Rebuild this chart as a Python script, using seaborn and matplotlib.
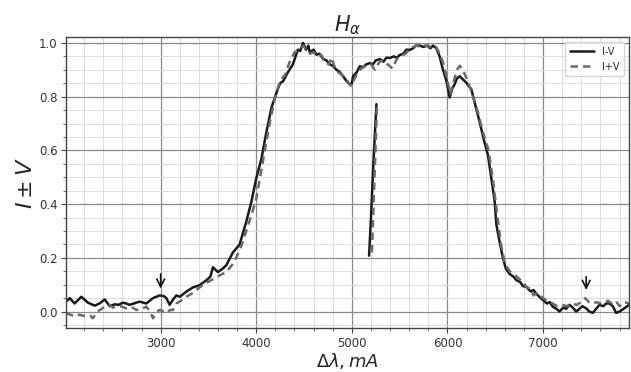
import numpy as np
import pandas as pd
import seaborn as sns
import matplotlib
matplotlib.use("Agg")
import matplotlib.pyplot as plt
from matplotlib.ticker import MultipleLocator

# ---- data ----
iv_x = [2010, 2050, 2100, 2170, 2240, 2310, 2360, 2415, 2467, 2520, 2560, 2605, 2640, 2675, 2720,
        2780, 2850, 2920, 2990, 3030, 3060, 3094, 3130, 3164, 3200, 3268, 3338, 3407, 3477, 3520,
        3547, 3599, 3650, 3686, 3756, 3826, 3896, 3950, 4000, 4055, 4107, 4160, 4212, 4250, 4282,
        4330, 4383, 4435, 4460, 4489, 4520, 4545, 4560, 4600, 4630, 4660, 4700, 4735, 4769, 4800,
        4839, 4870, 4908, 4940, 4978, 5000, 5013, 5050, 5083, 5120, 5150, 5187, 5220, 5250, 5292,
        5330, 5360, 5397, 5440, 5470, 5501, 5540, 5570, 5606, 5640, 5670, 5710, 5750, 5790, 5820,
        5849, 5884, 5918, 5953, 5988, 6023, 6050, 6075, 6100, 6128, 6160, 6197, 6250, 6290, 6337,
        6380, 6424, 6459, 6494, 6511, 6545, 6580, 6610, 6650, 6690, 6720, 6760, 6790, 6824, 6870,
        6900, 6929, 6960, 6998, 7040, 7070, 7102, 7140, 7172, 7210, 7240, 7276, 7310, 7346, 7380,
        7410, 7451, 7485, 7520, 7555, 7590, 7630, 7660, 7694, 7730, 7764, 7800, 7850, 7900]
iv_y = [0.037, 0.05, 0.03, 0.055, 0.033, 0.022, 0.03, 0.045, 0.02, 0.027, 0.025, 0.033, 0.03, 0.025, 0.03,
        0.037, 0.03, 0.05, 0.06, 0.058, 0.05, 0.025, 0.045, 0.06, 0.055, 0.074, 0.09, 0.098, 0.116, 0.13,
        0.165, 0.147, 0.16, 0.172, 0.22, 0.25, 0.335, 0.41, 0.496, 0.57, 0.67, 0.76, 0.815, 0.85, 0.858,
        0.89, 0.92, 0.975, 0.97, 1.0, 0.975, 0.99, 0.965, 0.975, 0.956, 0.96, 0.94, 0.935, 0.92, 0.915,
        0.9, 0.893, 0.876, 0.86, 0.846, 0.85, 0.876, 0.89, 0.913, 0.91, 0.92, 0.925, 0.92, 0.935, 0.94,
        0.93, 0.945, 0.944, 0.95, 0.945, 0.955, 0.96, 0.975, 0.974, 0.98, 0.99, 0.99, 0.985, 0.99, 0.98,
        0.99, 0.98, 0.95, 0.9, 0.86, 0.797, 0.83, 0.846, 0.868, 0.876, 0.865, 0.852, 0.827, 0.77, 0.705,
        0.64, 0.582, 0.496, 0.41, 0.325, 0.26, 0.2, 0.16, 0.14, 0.13, 0.117, 0.11, 0.095, 0.092, 0.075,
        0.08, 0.067, 0.055, 0.043, 0.03, 0.035, 0.018, 0.01, 0.0, 0.015, 0.01, 0.025, 0.015, 0.0, 0.01,
        0.02, 0.012, 0.0, -0.005, 0.01, 0.025, 0.02, 0.03, 0.03, 0.02, -0.005, 0.0, 0.012, 0.025]

ipv_x = [2010, 2060, 2100, 2150, 2220, 2260, 2290, 2340, 2390, 2430, 2467, 2500, 2530, 2580, 2640,
         2690, 2745, 2800, 2850, 2890, 2920, 2960, 2990, 3030, 3060, 3100, 3130, 3165, 3210, 3268,
         3340, 3407, 3470, 3547, 3620, 3686, 3750, 3790, 3850, 3896, 3950, 4000, 4050, 4100, 4150,
         4200, 4250, 4300, 4350, 4400, 4450, 4489, 4530, 4560, 4600, 4640, 4680, 4720, 4760, 4790,
         4820, 4860, 4900, 4950, 4990, 5020, 5060, 5100, 5150, 5200, 5240, 5290, 5330, 5375, 5425,
         5470, 5510, 5560, 5600, 5640, 5680, 5720, 5760, 5800, 5840, 5880, 5920, 5960, 6000, 6030,
         6060, 6100, 6130, 6160, 6210, 6270, 6320, 6370, 6430, 6480, 6520, 6560, 6600, 6650, 6690,
         6740, 6790, 6830, 6870, 6900, 6940, 6980, 7020, 7060, 7100, 7150, 7200, 7250, 7300, 7350,
         7400, 7440, 7480, 7520, 7560, 7600, 7640, 7680, 7720, 7760, 7800, 7850, 7900]
ipv_y = [-0.006, -0.012, -0.018, -0.012, -0.018, -0.015, -0.025, 0.0, 0.012, 0.02, 0.025, 0.015, 0.018, 0.02, 0.012,
         0.018, 0.006, 0.01, 0.018, 0.0, -0.025, 0.0, 0.006, 0.0, -0.006, 0.006, 0.006, 0.03, 0.04, 0.055,
         0.07, 0.09, 0.105, 0.12, 0.135, 0.147, 0.175, 0.2, 0.25, 0.3, 0.36, 0.42, 0.52, 0.62, 0.72,
         0.8, 0.86, 0.88, 0.93, 0.965, 0.975, 0.99, 0.975, 0.96, 0.965, 0.95, 0.955, 0.93, 0.92, 0.945,
         0.91, 0.89, 0.88, 0.86, 0.84, 0.86, 0.89, 0.905, 0.915, 0.92, 0.9, 0.93, 0.935, 0.92, 0.905,
         0.94, 0.95, 0.96, 0.975, 0.985, 0.99, 0.985, 0.99, 0.99, 0.98, 0.985, 0.96, 0.92, 0.86, 0.81,
         0.85, 0.9, 0.915, 0.9, 0.86, 0.8, 0.74, 0.67, 0.6, 0.48, 0.36, 0.25, 0.18, 0.15, 0.14,
         0.125, 0.11, 0.09, 0.085, 0.06, 0.07, 0.055, 0.045, 0.04, 0.03, 0.02, 0.025, 0.02, 0.03, 0.025,
         0.035, 0.05, 0.035, 0.03, 0.035, 0.03, 0.035, 0.04, 0.03, 0.04, 0.02, 0.035, 0.03]

# detached segment present in the original data plot
iv_seg_x = [5180, 5200, 5225, 5257]
iv_seg_y = [0.208, 0.35, 0.55, 0.772]
ipv_seg_x = [5210, 5225, 5245, 5262]
ipv_seg_y = [0.22, 0.38, 0.58, 0.76]

arrow_x = [3000, 7451]
arrow_tip = [0.075, 0.07]
arrow_tail = [0.15, 0.14]

# ---- plot ----
sns.set_style("white")
plt.rcParams['font.family'] = ['DejaVu Sans']
plt.rcParams['mathtext.fontset'] = 'dejavusans'

fig = plt.figure(figsize=(6.31, 3.72), dpi=100)
ax = fig.add_axes([0.1046, 0.117, 0.8924, 0.7835])

sns.lineplot(x=iv_x, y=iv_y, ax=ax, color='#1a1a1a', lw=1.8, label='I-V', sort=False)
sns.lineplot(x=ipv_x, y=ipv_y, ax=ax, color='#6a6a6a', lw=1.8, linestyle=(0, (3, 2)), label='I+V', sort=False)
sns.lineplot(x=iv_seg_x, y=iv_seg_y, ax=ax, color='#1a1a1a', lw=1.8, sort=False)
sns.lineplot(x=ipv_seg_x, y=ipv_seg_y, ax=ax, color='#6a6a6a', lw=1.8, linestyle=(0, (3, 2)), sort=False)

for xa, yt, yh in zip(arrow_x, arrow_tip, arrow_tail):
    ax.annotate('', xy=(xa, yt), xytext=(xa, yh),
                arrowprops=dict(arrowstyle='->', color='#111111', lw=1.2, mutation_scale=14))

ax.set_xlim(2010, 7900)
ax.set_ylim(-0.063, 1.022)
ax.xaxis.set_major_locator(MultipleLocator(1000))
ax.xaxis.set_minor_locator(MultipleLocator(200))
ax.yaxis.set_major_locator(MultipleLocator(0.2))
ax.yaxis.set_minor_locator(MultipleLocator(0.05))
ax.grid(which='major', color='#8a8a8a', lw=0.9)
ax.grid(which='minor', color='#d8d8d8', lw=0.6)
ax.set_axisbelow(True)

ax.tick_params(which='major', direction='out', length=3.5, width=0.8, colors='#444444',
               labelsize=8.5, labelcolor='#333333', left=True, bottom=True, pad=2.5)
ax.tick_params(which='minor', direction='out', length=2, width=0.6, colors='#555555',
               left=True, bottom=True)
for s in ax.spines.values():
    s.set_color('#444444')
    s.set_linewidth(1.0)

ax.set_title(r'$H_\alpha$', fontsize=15, pad=4)
ax.set_xlabel(r'$\Delta\lambda, mA$', fontsize=13, labelpad=0.5)
ax.set_ylabel(r'$I \pm V$', fontsize=16, labelpad=2)

leg = ax.legend(loc='upper right', fontsize=7, frameon=True, handlelength=2.5,
                borderpad=0.5, labelspacing=0.5)
leg.get_frame().set_edgecolor('#cccccc')

fig.savefig('out.png', dpi=100)
